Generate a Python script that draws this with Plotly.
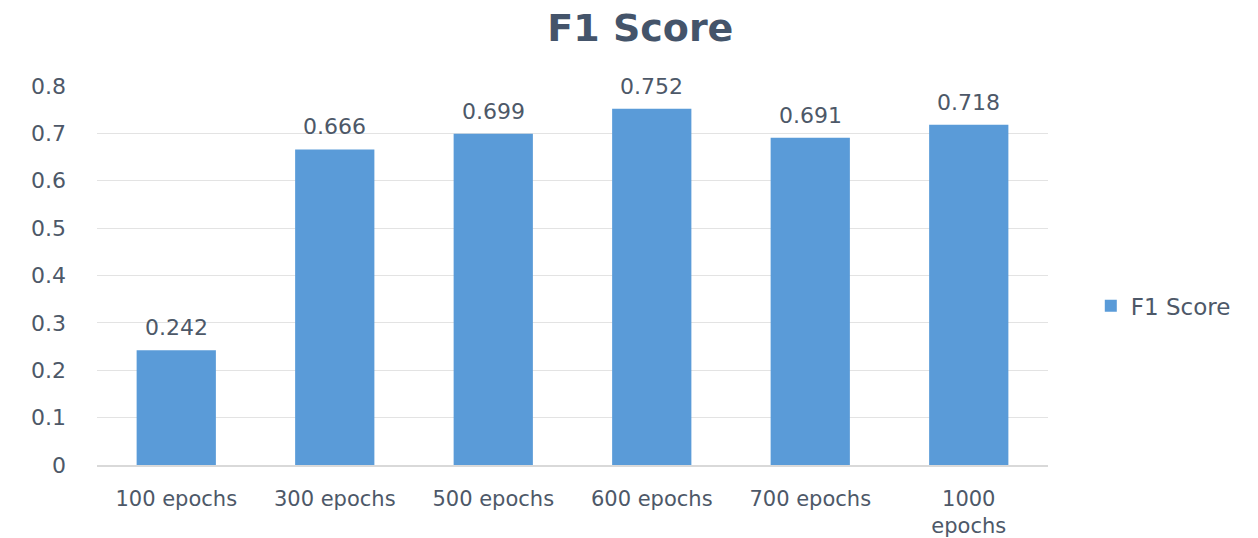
import plotly.graph_objects as go

categories = ["100 epochs", "300 epochs", "500 epochs", "600 epochs", "700 epochs", "1000<br>epochs"]
f1_scores = [0.242, 0.666, 0.699, 0.752, 0.691, 0.718]
tick_vals = [0, 0.1, 0.2, 0.3, 0.4, 0.5, 0.6, 0.7, 0.8]
tick_text = ["0", "0.1", "0.2", "0.3", "0.4", "0.5", "0.6", "0.7", "0.8"]
series_name = "F1 Score"
title_text = "F1 Score"

txt_color = "#4d5868"
font_family = "DejaVu Sans"

fig = go.Figure()
fig.add_trace(go.Bar(
    x=categories,
    y=f1_scores,
    name=series_name,
    marker=dict(color="#5a9bd8", line=dict(width=0)),
    width=0.5,
    cliponaxis=False,
    showlegend=True,
))

for c, v in zip(categories, f1_scores):
    fig.add_annotation(
        x=c, y=v, xref="x", yref="y",
        text=f"{v:.3f}", showarrow=False,
        yanchor="bottom", yshift=8,
        font=dict(family=font_family, size=22, color=txt_color),
    )

fig.update_layout(
    width=1258,
    height=538,
    paper_bgcolor="white",
    plot_bgcolor="white",
    margin=dict(l=97, r=210, t=86, b=73),
    title=dict(
        text=f"<b>{title_text}</b>",
        x=0.509, xanchor="center",
        y=0.948, yanchor="middle",
        font=dict(family=font_family, size=38, color="#44546a"),
    ),
    xaxis=dict(
        showgrid=False,
        showline=True,
        linecolor="#d9d9d9",
        linewidth=1.5,
        ticks="",
        automargin=False,
        ticklabelstandoff=14,
        tickfont=dict(family=font_family, size=21, color=txt_color),
    ),
    yaxis=dict(
        range=[0, 0.8],
        tickvals=tick_vals,
        ticktext=tick_text,
        showgrid=True,
        gridcolor="#e3e3e3",
        gridwidth=1.2,
        zeroline=False,
        showline=False,
        ticks="",
        automargin=False,
        ticklabelstandoff=30,
        tickfont=dict(family=font_family, size=22, color=txt_color),
    ),
    legend=dict(
        x=1.045, xanchor="left",
        y=0.42, yanchor="middle",
        font=dict(family=font_family, size=23, color=txt_color),
        itemwidth=30,
    ),
    bargap=0.5,
)

fig.write_html("out.html")
